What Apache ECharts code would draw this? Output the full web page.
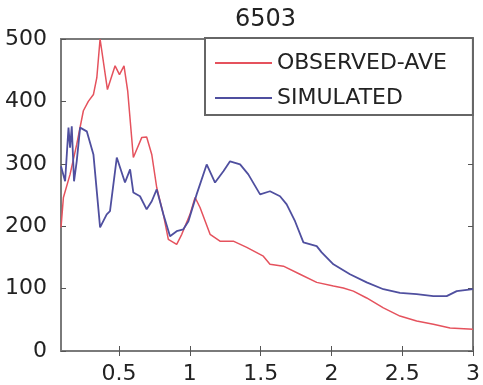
<!DOCTYPE html>
<html>
<head>
<meta charset="utf-8">
<script src="https://cdn.jsdelivr.net/npm/echarts@6/dist/echarts.min.js"></script>
<style>
  html, body { margin: 0; padding: 0; background: #fff; }
  #chart { width: 483px; height: 385px; }
</style>
</head>
<body>
<div id="chart"></div>
<script>
// values
const obsPeriod = [0.09, 0.107, 0.154, 0.201, 0.248, 0.283, 0.319, 0.343, 0.366, 0.418, 0.472, 0.503, 0.535, 0.561, 0.601,
  0.660, 0.695, 0.731, 0.766, 0.813, 0.848, 0.907, 0.943, 1.001, 1.037, 1.072, 1.143, 1.213, 1.307, 1.402, 1.519,
  1.566, 1.661, 1.778, 1.896, 2.014, 2.084, 2.155, 2.249, 2.367, 2.484, 2.602, 2.720, 2.838, 3.0];
const obsValues = [198, 246, 283, 331, 385, 400, 411, 438, 500, 419, 457, 443, 457, 417, 310,
  342, 343, 315, 262, 219, 179, 171, 187, 219, 246, 230, 187, 176, 176, 166, 152,
  139, 136, 123, 110, 104, 101, 96, 85, 69, 56, 48, 43, 37, 35];

const simPeriod = [0.09, 0.119, 0.143, 0.154, 0.166, 0.182, 0.201, 0.225, 0.272, 0.319, 0.366, 0.413, 0.436, 0.484,
  0.542, 0.578, 0.601, 0.648, 0.695, 0.731, 0.766, 0.813, 0.860, 0.907, 0.954, 0.990, 1.048, 1.119, 1.178, 1.237,
  1.284, 1.355, 1.413, 1.496, 1.566, 1.637, 1.684, 1.743, 1.802, 1.896, 1.931, 2.014, 2.131, 2.249, 2.367, 2.484,
  2.602, 2.720, 2.814, 2.885, 3.0];
const simValues = [296, 272, 358, 326, 360, 272, 304, 358, 352, 315, 198, 219, 224, 310,
  270, 291, 254, 248, 227, 240, 259, 219, 184, 192, 195, 208, 251, 299, 270, 288,
  304, 299, 283, 251, 256, 248, 235, 208, 174, 168, 158, 139, 123, 110, 99, 93,
  91, 88, 88, 96, 99];

const xTicks = [0.5, 1, 1.5, 2, 2.5, 3];
const seriesNames = ['OBSERVED-AVE', 'SIMULATED'];

const font = 'DejaVu Sans';
const frameColor = '#7a7a7a';

const pairs = (xs, ys) => xs.map((x, i) => [x, ys[i]]);

const chart = echarts.init(document.getElementById('chart'));

const xBase = {
  type: 'value',
  min: 0.09,
  max: 3,
  axisLine: { show: false },
  splitLine: { show: false },
  axisTick: { inside: true, length: 5, lineStyle: { color: '#555' }, customValues: xTicks }
};
const yBase = {
  type: 'value',
  min: 0,
  max: 500,
  interval: 100,
  axisLine: { show: false },
  splitLine: { show: false },
  axisTick: { inside: true, length: 5, lineStyle: { color: '#555' } }
};

const option = {
  animation: false,
  title: {
    text: '6503',
    left: 230,
    top: 3,
    textStyle: { fontFamily: font, fontSize: 24, fontWeight: 'normal', color: '#222' }
  },
  legend: {
    data: seriesNames,
    orient: 'vertical',
    left: 205,
    top: 38,
    padding: [14, 26, 6, 10],
    itemGap: 13,
    icon: 'rect',
    itemWidth: 57,
    itemHeight: 2,
    backgroundColor: '#fff',
    borderColor: '#666',
    borderWidth: 2,
    textStyle: { fontFamily: font, fontSize: 22, color: '#222' }
  },
  grid: {
    left: 61,
    right: 9,
    top: 39,
    bottom: 34,
    show: true,
    borderColor: frameColor,
    borderWidth: 2,
    backgroundColor: '#fff'
  },
  xAxis: [
    Object.assign({}, xBase, {
      position: 'bottom',
      axisLabel: {
        customValues: xTicks,
        margin: 12,
        fontFamily: font,
        fontSize: 22,
        color: '#222'
      }
    }),
    Object.assign({}, xBase, { position: 'top', axisLabel: { show: false } })
  ],
  yAxis: [
    Object.assign({}, yBase, {
      position: 'left',
      axisLabel: { margin: 14, fontFamily: font, fontSize: 22, color: '#222' }
    }),
    Object.assign({}, yBase, { position: 'right', axisLabel: { show: false } })
  ],
  series: [
    {
      name: seriesNames[0],
      type: 'line',
      data: pairs(obsPeriod, obsValues),
      symbol: 'none',
      color: '#e5525d',
      lineStyle: { width: 1.5 }
    },
    {
      name: seriesNames[1],
      type: 'line',
      data: pairs(simPeriod, simValues),
      symbol: 'none',
      color: '#4f4f9f',
      lineStyle: { width: 1.8 }
    }
  ]
};

chart.setOption(option);
</script>
</body>
</html>
